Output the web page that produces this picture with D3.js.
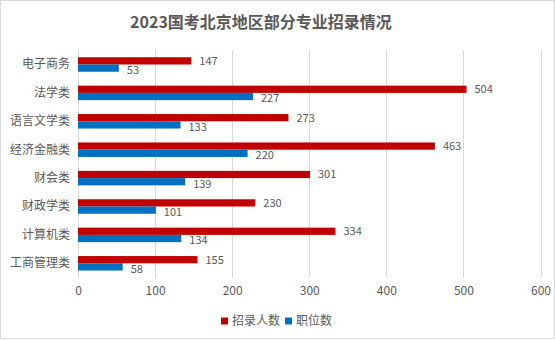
<!DOCTYPE html>
<html><head><meta charset="utf-8">
<script src="https://cdn.jsdelivr.net/npm/d3@7"></script>
<style>
html,body{margin:0;padding:0;background:#fff;}
svg{display:block;font-family:"Noto Sans CJK SC","Microsoft YaHei",sans-serif;}
</style></head>
<body><svg id="c" width="555" height="340"></svg>
<script>
const categories = ["电子商务","法学类","语言文学类","经济金融类","财会类","财政学类","计算机类","工商管理类"];
const enrolled = [147,504,273,463,301,230,334,155];
const positions = [53,227,133,220,139,101,134,58];
const seriesNames = ["招录人数","职位数"];
const seriesColors = ["#C00000","#0070C0"];
const xTicks = [0,100,200,300,400,500,600];
const title = "2023国考北京地区部分专业招录情况";

(function(){
const svg = d3.select("#c");
const W = 555, H = 340;
svg.append("rect").attr("x",0.5).attr("y",0.5).attr("width",W-1).attr("height",H-2)
  .attr("fill","#fff").attr("stroke","#d9d9d9");

const pLeft = 78, pRight = 540.5, pTop = 50.3, pBottom = 277.5;
const x = d3.scaleLinear().domain([0,600]).range([pLeft,pRight]);
const y = d3.scaleBand().domain(categories).range([pTop,pBottom]).paddingInner(0.49).paddingOuter(0.245);
const ys = d3.scaleBand().domain([0,1]).range([0,y.bandwidth()]);

svg.append("g").selectAll("line").data(xTicks).join("line")
  .attr("x1",d=>Math.round(x(d))+0.5).attr("x2",d=>Math.round(x(d))+0.5)
  .attr("y1",pTop).attr("y2",pBottom).attr("stroke","#d9d9d9").attr("stroke-width",1);

const xa = d3.axisBottom(x).tickValues(xTicks).tickSize(0).tickPadding(0);
const gx = svg.append("g").attr("transform",`translate(0,${pBottom})`).call(xa);
gx.select(".domain").remove();
gx.selectAll("text").attr("y",14).attr("dy","0.32em").attr("fill","#595959").style("font-size","12px").style("font-family","'Noto Sans CJK SC',sans-serif");

const ya = d3.axisLeft(y).tickSize(0).tickPadding(8);
const gy = svg.append("g").attr("transform",`translate(${pLeft},0)`).call(ya);
gy.select(".domain").remove();
gy.selectAll("text").attr("fill","#595959").style("font-size","12px").style("font-family","'Noto Sans CJK SC',sans-serif");

const series = [enrolled, positions];
series.forEach((vals,si)=>{
  const g = svg.append("g");
  g.selectAll("rect").data(vals).join("rect")
    .attr("x",x(0)).attr("y",(d,i)=>y(categories[i])+ys(si))
    .attr("width",d=>x(d)-x(0)).attr("height",ys.bandwidth())
    .attr("fill",seriesColors[si]);
  g.selectAll("text").data(vals).join("text")
    .attr("x",d=>x(d)+8).attr("y",(d,i)=>y(categories[i])+ys(si)+ys.bandwidth()/2+ (si===1?2:0))
    .attr("dy","0.35em").attr("fill","#595959").style("font-size","11px")
    .text(d=>d);
});

svg.append("text").attr("x",261).attr("y",22).attr("text-anchor","middle").attr("dy","0.35em")
  .attr("fill","#595959").style("font-size","16px").style("font-weight","bold").text(title);

const lg = svg.append("g").attr("transform","translate(221,321)");
const items = [{n:seriesNames[0],c:seriesColors[0],x:0},{n:seriesNames[1],c:seriesColors[1],x:64}];
items.forEach(it=>{
  lg.append("rect").attr("x",it.x).attr("y",-3.5).attr("width",7).attr("height",7).attr("fill",it.c);
  lg.append("text").attr("x",it.x+11).attr("y",0).attr("dy","0.35em").attr("fill","#595959").style("font-size","12px").text(it.n);
});
})();
</script></body></html>
